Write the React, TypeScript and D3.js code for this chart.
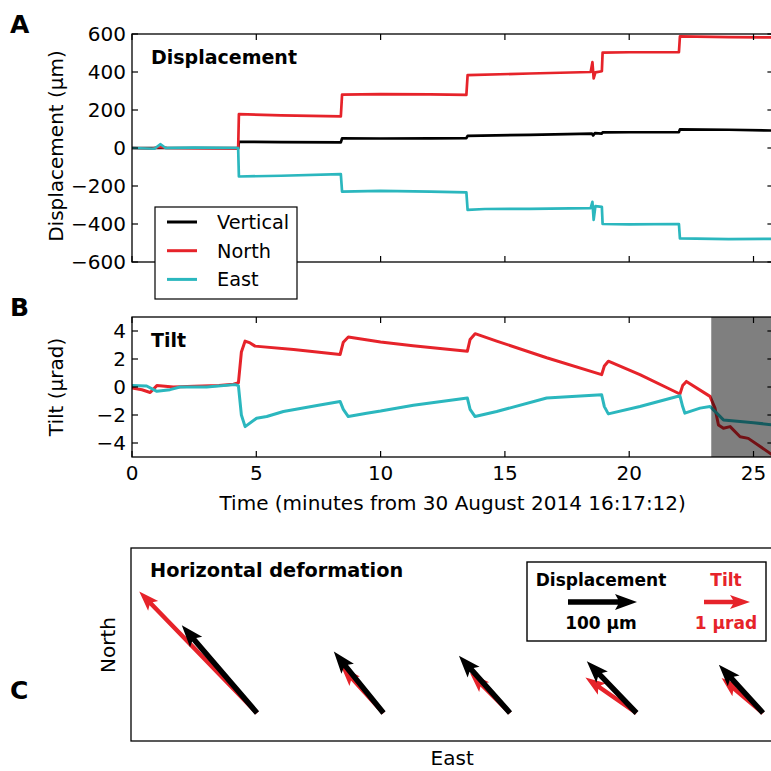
import React from "react";
import * as d3 from "d3";

// ---------- data ----------
const timeTicks = [0, 5, 10, 15, 20, 25];
const dispTicks = [-600, -400, -200, 0, 200, 400, 600];
const tiltTicks = [-4, -2, 0, 2, 4];

// Panel A: displacement (µm) vs time (min)
const dispVertical: [number, number][] = [
  [0, 0], [2, 0], [4.27, 0], [4.3, 33], [6, 31], [8.4, 30], [8.45, 51], [10, 50], [12, 51], [13.45, 52],
  [13.5, 64], [16, 69], [18.5, 76], [18.55, 66], [18.62, 78], [18.9, 76], [18.93, 82], [20, 83],
  [22.0, 84], [22.04, 98], [24, 96], [25.8, 92],
];
const dispNorth: [number, number][] = [
  [0, 0], [0.8, -4], [1.1, 6], [1.4, 0], [4.27, -4], [4.3, 178], [6, 172], [8.4, 166], [8.45, 281],
  [10, 284], [12, 282], [13.45, 280], [13.5, 384], [16, 392], [18.45, 400], [18.52, 452], [18.57, 366],
  [18.64, 398], [18.9, 404], [18.93, 502], [20, 504], [22.0, 505], [22.04, 587], [24, 584], [25.8, 582],
];
const dispEast: [number, number][] = [
  [0, 0], [0.9, -4], [1.15, 20], [1.35, 0], [2.5, 2], [4.27, 0], [4.3, -150], [6, -146], [8.4, -138],
  [8.45, -230], [10, -226], [12, -230], [13.45, -234], [13.5, -326], [14.2, -321], [16, -320],
  [18.45, -316], [18.52, -283], [18.57, -378], [18.64, -306], [18.9, -310], [18.93, -400], [20, -402],
  [22.0, -400], [22.04, -476], [24, -480], [25.8, -478],
];

// Panel B: tilt (µrad) vs time (min)
const tiltNorth: [number, number][] = [
  [0, -0.07], [0.4, -0.2], [0.73, -0.39], [1.0, 0.1], [1.66, 0], [2.5, 0.05], [3.5, 0.1], [4.08, 0.2],
  [4.28, 0.3], [4.4, 2.5], [4.55, 3.28], [4.75, 3.15], [4.95, 2.92], [6.5, 2.68], [8.37, 2.32],
  [8.5, 3.2], [8.7, 3.57], [10, 3.22], [11.3, 2.95], [13.49, 2.56], [13.6, 3.4], [13.8, 3.81],
  [14.67, 3.28], [16.68, 2.09], [18.89, 0.88], [19.0, 1.5], [19.16, 1.84], [20.43, 0.88], [22.04, -0.5],
  [22.15, 0.1], [22.3, 0.4], [23.25, -0.67], [23.45, -1.51], [23.59, -2.71], [23.79, -2.95],
  [24.06, -2.83], [24.46, -3.55], [24.79, -3.67], [25.8, -4.9],
];
const tiltEast: [number, number][] = [
  [0, 0.1], [0.59, 0.07], [1.0, -0.31], [1.53, -0.19], [1.93, 0], [3, 0], [4.14, 0.17], [4.28, 0.1],
  [4.4, -2.0], [4.55, -2.83], [5.01, -2.23], [5.42, -2.11], [6.09, -1.75], [7.5, -1.3], [8.37, -1.03],
  [8.5, -1.6], [8.7, -2.11], [9.44, -1.87], [10, -1.72], [11.32, -1.3], [13.49, -0.79], [13.6, -1.6],
  [13.8, -2.11], [14.67, -1.75], [16.68, -0.79], [18.89, -0.55], [19.0, -1.4], [19.16, -1.92],
  [20.43, -1.39], [22.04, -0.63], [22.15, -1.4], [22.24, -1.87], [22.85, -1.51], [23.25, -1.39],
  [23.52, -1.87], [23.79, -2.35], [24.46, -2.47], [25.0, -2.55], [25.8, -2.71],
];
const shadeStart = 23.3;

// Panel C: horizontal deformation at each step (E, N)
const stepEvents = ["1", "2", "3", "4", "5"];
const arrowDispEast = [-109, -72, -74, -72, -64];
const arrowDispNorth = [127, 89, 83, 75, 70];
const arrowTiltEast = [-2.56, -0.92, -0.87, -1.11, -0.9];
const arrowTiltNorth = [2.64, 1.01, 0.87, 0.77, 0.76];

const legendSeries = ["Vertical", "North", "East"];

// ---------- styles ----------
const RED = "#e6232a";
const CYAN = "#2bb7be";
const BLACK = "#000000";
const FONT = "'DejaVu Sans', sans-serif";
const seriesColors = [BLACK, RED, CYAN];

// ---------- layout ----------
const W = 771;
const H = 771;
const left = 132;
const right = 773.4;
const aTop = 34, aBottom = 262;
const bTop = 317, bBottom = 457;
const cTop = 548, cBottom = 741, cLeft = 131;
const tickLen = 6;

const x = d3.scaleLinear().domain([0, 25.8]).range([left, right]);
const yA = d3.scaleLinear().domain([-600, 600]).range([aBottom, aTop]);
const yB = d3.scaleLinear().domain([-5, 5]).range([bBottom, bTop]);
const fmt = d3.format("d");

// panel C scales
const originX = d3.scalePoint<string>().domain(stepEvents).range([257, 763]);
const originY = 713;
const dispScale = d3.scaleLinear().domain([0, 100]).range([0, 69]);
const tiltScale = d3.scaleLinear().domain([0, 1]).range([0, 46]);

function arrowPath(x0: number, y0: number, dx: number, dy: number, w: number, hl: number, ha: number, hw: number) {
  const L = Math.hypot(dx, dy);
  const ux = dx / L, uy = dy / L;
  const px = -uy, py = ux;
  const pts: [number, number][] = [
    [0, -w / 2], [L - ha, -w / 2], [L - hl, -hw / 2], [L, 0], [L - hl, hw / 2], [L - ha, w / 2], [0, w / 2],
  ];
  return "M" + pts.map(([a, b]) => `${x0 + ux * a + px * b},${y0 + uy * a + py * b}`).join("L") + "Z";
}

function Frame({ top, bottom, yScale, yTicks, showXLabels }: any) {
  return (
    <g>
      <rect x={left} y={top} width={right - left} height={bottom - top} fill="none" stroke="#000" strokeWidth={1.3} />
      {timeTicks.map((t) => (
        <g key={"xt" + t}>
          <line x1={x(t)} x2={x(t)} y1={bottom} y2={bottom - tickLen} stroke="#000" strokeWidth={1.2} />
          <line x1={x(t)} x2={x(t)} y1={top} y2={top + tickLen} stroke="#000" strokeWidth={1.2} />
          {showXLabels && (
            <text x={x(t)} y={480} textAnchor="middle" fontSize={20} fontFamily={FONT}>{fmt(t)}</text>
          )}
        </g>
      ))}
      {yTicks.map((v: number) => (
        <g key={"yt" + v}>
          <line x1={left} x2={left + tickLen} y1={yScale(v)} y2={yScale(v)} stroke="#000" strokeWidth={1.2} />
          <line x1={right} x2={right - tickLen} y1={yScale(v)} y2={yScale(v)} stroke="#000" strokeWidth={1.2} />
          <text x={126} y={yScale(v)} dy="0.36em" textAnchor="end" fontSize={20} fontFamily={FONT}>{fmt(v)}</text>
        </g>
      ))}
    </g>
  );
}

export default function App() {
  const lineA = d3.line<[number, number]>().x((d) => x(d[0])).y((d) => yA(d[1]));
  const lineB = d3.line<[number, number]>().x((d) => x(d[0])).y((d) => yB(d[1]));
  const dispSeries = [dispVertical, dispNorth, dispEast];

  return (
    <svg width={W} height={H} style={{ position: "absolute", left: 0, top: 0, background: "#fff" }} fontFamily={FONT}>
      <defs>
        <clipPath id="clipA"><rect x={left} y={aTop} width={right - left} height={aBottom - aTop} /></clipPath>
        <clipPath id="clipB"><rect x={left} y={bTop} width={right - left} height={bBottom - bTop} /></clipPath>
      </defs>

      {/* Panel letters */}
      <text x={10} y={33} fontSize={25} fontWeight="bold">A</text>
      <text x={10} y={316} fontSize={25} fontWeight="bold">B</text>
      <text x={10} y={699} fontSize={25} fontWeight="bold">C</text>

      {/* ---------- Panel A ---------- */}
      <g clipPath="url(#clipA)">
        {dispSeries.map((s, i) => (
          <path key={i} d={lineA(s) || ""} fill="none" stroke={seriesColors[i]} strokeWidth={2.7} strokeLinejoin="round" />
        ))}
      </g>
      <Frame top={aTop} bottom={aBottom} yScale={yA} yTicks={dispTicks} showXLabels={false} />
      <text x={151} y={64} fontSize={19} fontWeight="bold">Displacement</text>
      <text transform={`translate(63,146) rotate(-90)`} textAnchor="middle" fontSize={20}>Displacement (μm)</text>

      {/* legend A */}
      <rect x={155} y={207} width={142} height={92} fill="#fff" stroke="#000" strokeWidth={1.2} />
      {legendSeries.map((name, i) => (
        <g key={name}>
          <line x1={167} x2={197} y1={222 + i * 28.7} y2={222 + i * 28.7} stroke={seriesColors[i]} strokeWidth={3} />
          <text x={217} y={222 + i * 28.7} dy="0.36em" fontSize={19.3}>{name}</text>
        </g>
      ))}

      {/* ---------- Panel B ---------- */}
      <g clipPath="url(#clipB)">
        <path d={lineB(tiltNorth) || ""} fill="none" stroke={RED} strokeWidth={3} strokeLinejoin="round" />
        <path d={lineB(tiltEast) || ""} fill="none" stroke={CYAN} strokeWidth={3} strokeLinejoin="round" />
        <rect x={x(shadeStart)} y={bTop} width={right - x(shadeStart)} height={bBottom - bTop} fill="#000" opacity={0.5} />
      </g>
      <Frame top={bTop} bottom={bBottom} yScale={yB} yTicks={tiltTicks} showXLabels={true} />
      <text x={151} y={347} fontSize={19} fontWeight="bold">Tilt</text>
      <text transform={`translate(63,387) rotate(-90)`} textAnchor="middle" fontSize={20}>Tilt (μrad)</text>
      <text x={(left + right) / 2} y={510} textAnchor="middle" fontSize={20}>Time (minutes from 30 August 2014 16:17:12)</text>

      {/* ---------- Panel C ---------- */}
      <rect x={cLeft} y={cTop} width={right - cLeft} height={cBottom - cTop} fill="none" stroke="#000" strokeWidth={1.3} />
      <text x={150} y={577} fontSize={19.3} fontWeight="bold">Horizontal deformation</text>
      <text transform={`translate(115,645) rotate(-90)`} textAnchor="middle" fontSize={20}>North</text>
      <text x={(cLeft + right) / 2} y={765} textAnchor="middle" fontSize={20}>East</text>

      {stepEvents.map((ev, i) => {
        const ox = originX(ev) as number;
        return (
          <g key={"arr" + ev}>
            <path
              d={arrowPath(ox, originY, tiltScale(arrowTiltEast[i]), -tiltScale(arrowTiltNorth[i]), 4.5, 20, 17, 14)}
              fill={RED}
            />
            <path
              d={arrowPath(ox, originY, dispScale(arrowDispEast[i]), -dispScale(arrowDispNorth[i]), 5.5, 22, 19, 16)}
              fill={BLACK}
            />
          </g>
        );
      })}

      {/* legend C */}
      <rect x={527} y={562} width={239} height={79} fill="#fff" stroke="#000" strokeWidth={1.4} />
      <text x={601} y={586} textAnchor="middle" fontSize={17} fontWeight="bold">Displacement</text>
      <path d={arrowPath(568, 602, dispScale(100), 0, 5.5, 22, 19, 16)} fill={BLACK} />
      <text x={601} y={629} textAnchor="middle" fontSize={17} fontWeight="bold">100 μm</text>
      <text x={726} y={586} textAnchor="middle" fontSize={17} fontWeight="bold" fill={RED}>Tilt</text>
      <path d={arrowPath(704, 602, tiltScale(1), 0, 4.5, 20, 17, 14)} fill={RED} />
      <text x={726} y={629} textAnchor="middle" fontSize={17} fontWeight="bold" fill={RED}>1 μrad</text>
    </svg>
  );
}
